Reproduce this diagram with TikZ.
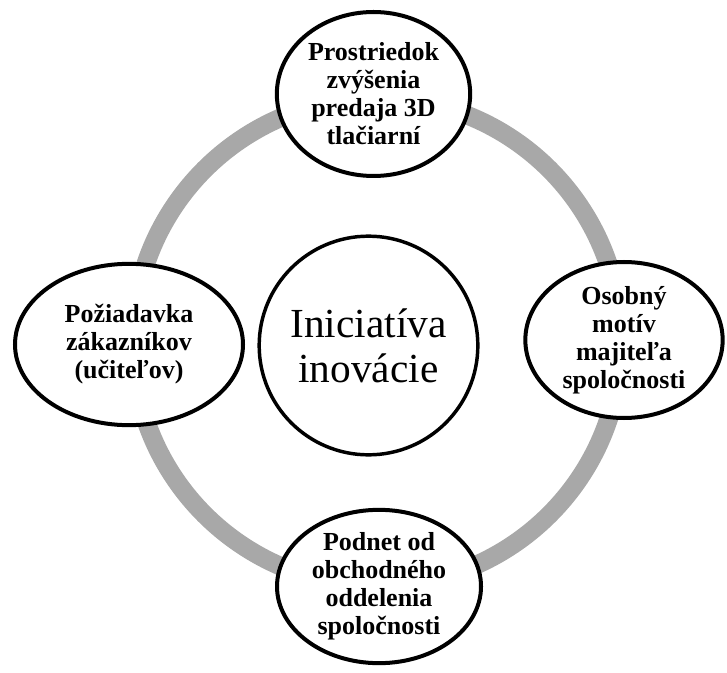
\documentclass[tikz,border=0pt]{standalone}
\usepackage{fontspec}
\setmainfont{Liberation Serif}
\usetikzlibrary{shapes.geometric}

\definecolor{ringgray}{HTML}{A8A8A8}

\begin{document}
\begin{tikzpicture}[x=0.75pt, y=-0.75pt,
  outer/.style={ellipse, draw=black, line width=3pt, fill=white, inner sep=0pt,
    align=center, font=\fontsize{19.5}{21}\selectfont\bfseries},
  hub/.style={circle, draw=black, line width=2.6pt, fill=white, inner sep=0pt,
    minimum size=164pt, align=center, font=\fontsize{31}{34}\selectfont}]
\useasboundingbox (0,0) rectangle (727,673);
% ring behind the cycle
\coordinate (mid) at (377,342);
\draw[ringgray, line width=14pt] (mid) circle (183pt);
% center
\node[hub] (init) at (368.5,345.5) {Iniciatíva\\inovácie};
% outer nodes
\node[outer, minimum width=145pt, minimum height=123pt] (sales) at (373.5,94)
  {Prostriedok\\zvýšenia\\predaja 3D\\tlačiarní};
\node[outer, minimum width=148pt, minimum height=117pt] (owner) at (624,340)
  {Osobný\\motív\\majiteľa\\spoločnosti};
\node[outer, minimum width=153pt, minimum height=115pt] (dept) at (379,586.5)
  {Podnet od\\obchodného\\oddelenia\\spoločnosti};
\node[outer, minimum width=171pt, minimum height=121pt] (users) at (129,344.5)
  {Požiadavka\\zákazníkov\\(učiteľov)};
\end{tikzpicture}
\end{document}
